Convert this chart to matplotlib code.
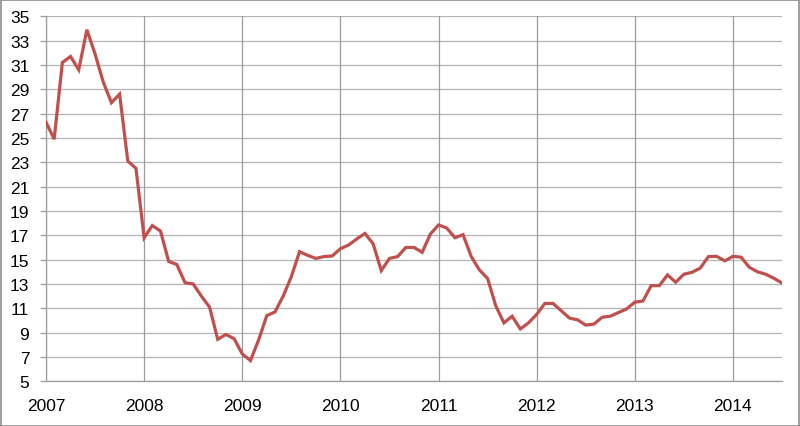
import matplotlib
matplotlib.use("Agg")
from matplotlib import pyplot as plt
from matplotlib.patches import Rectangle
import numpy as np

# monthly values, Jan 2007 .. Jul 2014
v2007 = [26.3, 24.9, 31.2, 31.7, 30.6, 33.9, 31.9, 29.6, 27.9, 28.6, 23.1, 22.5]
v2008 = [16.8, 17.8, 17.35, 14.85, 14.6, 13.1, 13.0, 12.0, 11.1, 8.45, 8.85, 8.5]
v2009 = [7.25, 6.7, 8.4, 10.4, 10.7, 12.0, 13.6, 15.65, 15.35, 15.1, 15.25, 15.3]
v2010 = [15.9, 16.2, 16.7, 17.15, 16.3, 14.1, 15.1, 15.25, 16.0, 16.0, 15.6, 17.1]
v2011 = [17.85, 17.6, 16.8, 17.05, 15.25, 14.15, 13.45, 11.2, 9.8, 10.35, 9.3, 9.8]
v2012 = [10.5, 11.4, 11.4, 10.8, 10.2, 10.05, 9.62, 9.7, 10.26, 10.35, 10.65, 10.95]
v2013 = [11.5, 11.6, 12.86, 12.86, 13.74, 13.14, 13.8, 13.96, 14.3, 15.25, 15.27, 14.9]
v2014 = [15.27, 15.2, 14.37, 14.0, 13.8, 13.47, 13.08]

years = ['2007', '2008', '2009', '2010', '2011', '2012', '2013', '2014']
y_ticks = list(range(5, 36, 2))

values = v2007 + v2008 + v2009 + v2010 + v2011 + v2012 + v2013 + v2014
months = np.arange(len(values))

plt.rcParams['font.family'] = ['Liberation Sans Narrow', 'Liberation Sans', 'DejaVu Sans']

f = plt.figure(figsize=(8, 4.27), dpi=100)
ax = f.add_axes([0.0575, 0.1047, 0.92, 0.8548])

# Grid (drawn as lines so the two directions can have their own grey)
for t in y_ticks:
    ax.axhline(t, color='#b4b4b4', lw=0.9, zorder=1)
for i in range(len(years)):
    ax.axvline(i * 12, color='#9c9c9c', lw=0.9, zorder=1)

ax.plot(months, values, color='#c0504d', lw=2.3, zorder=3, solid_joinstyle='miter')

ax.set_xlim(0, len(values) - 1)
ax.set_ylim(5, 35)
ax.set_yticks(y_ticks)
ax.set_xticks([i * 12 for i in range(len(years))])
ax.set_xticklabels(years)

for s in ['top', 'right']:
    ax.spines[s].set_visible(False)
for s in ['left', 'bottom']:
    ax.spines[s].set_color('#9c9c9c')
    ax.spines[s].set_linewidth(0.9)

ax.tick_params(axis='y', length=4, width=0.9, color='#9c9c9c', pad=8, labelsize=12.5)
ax.tick_params(axis='x', length=0, pad=12, labelsize=12.5)

# chart border
f.patches.append(Rectangle((0.001, 0.001), 0.998, 0.997, transform=f.transFigure,
                           fill=False, edgecolor='#8c8c8c', lw=1.2))

f.savefig('out.png', dpi=100)
